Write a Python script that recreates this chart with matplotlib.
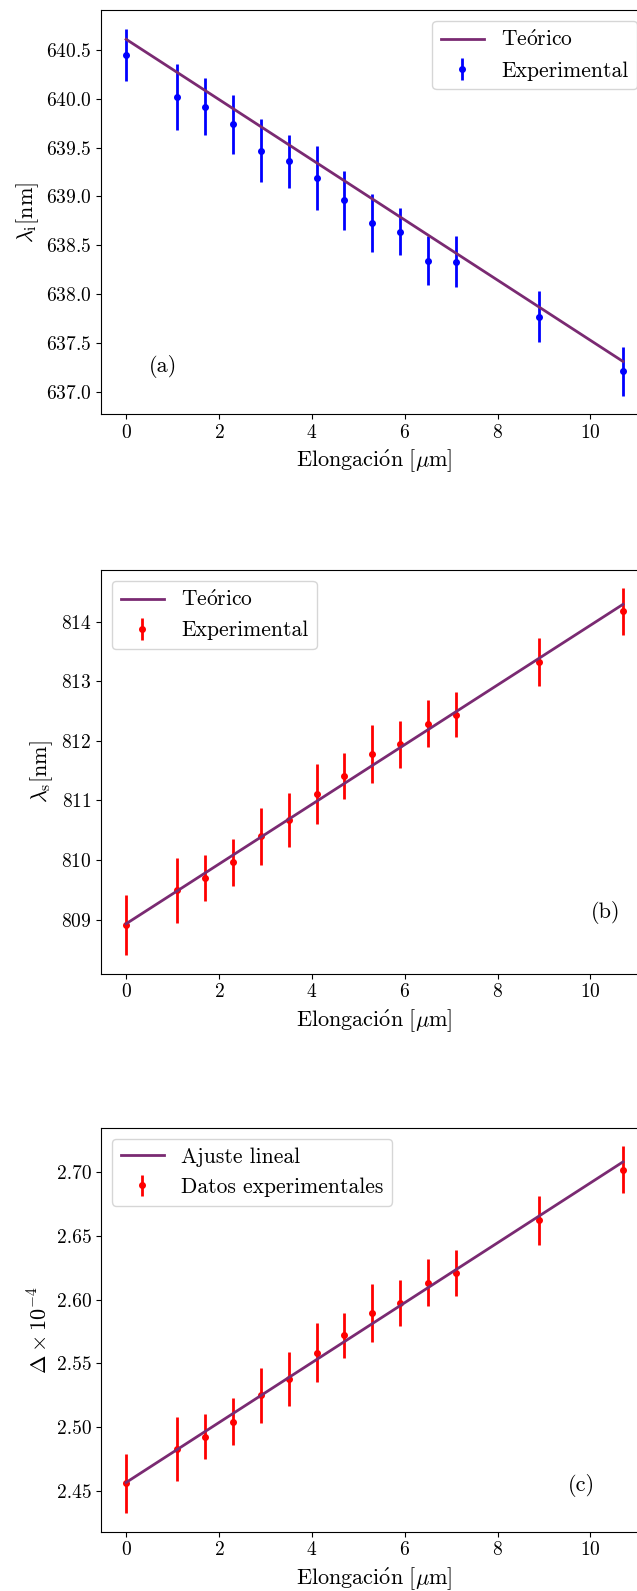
import matplotlib
matplotlib.use("Agg")
import matplotlib.pyplot as plt
import matplotlib.ticker as mticker

plt.rcParams["font.family"] = ["cmr10", "DejaVu Serif"]
plt.rcParams["mathtext.fontset"] = "cm"
plt.rcParams["axes.formatter.use_mathtext"] = True

# elongación aplicada (µm)
elong = [0, 1.1, 1.7, 2.3, 2.9, 3.5, 4.1, 4.7, 5.3, 5.9, 6.5, 7.1, 8.9, 10.7]

# (a) longitud de onda idler
lam_i = [640.45, 640.02, 639.92, 639.74, 639.47, 639.36, 639.19, 638.96,
         638.73, 638.64, 638.34, 638.33, 637.77, 637.21]
err_i = [0.27, 0.34, 0.29, 0.30, 0.32, 0.27, 0.33, 0.30, 0.30, 0.24,
         0.25, 0.26, 0.26, 0.25]
teo_x = [0, 10.7]
teo_i = [640.61, 637.31]

# (b) longitud de onda signal
lam_s = [808.91, 809.49, 809.70, 809.96, 810.40, 810.67, 811.11, 811.41,
         811.78, 811.94, 812.29, 812.44, 813.32, 814.17]
err_s = [0.51, 0.54, 0.39, 0.40, 0.48, 0.46, 0.50, 0.39, 0.49, 0.39,
         0.39, 0.38, 0.40, 0.39]
teo_s = [808.93, 814.29]

# (c) birrefringencia x 1e-4
delta = [2.4557, 2.4827, 2.4924, 2.5043, 2.5249, 2.5376, 2.5584, 2.5719,
         2.5893, 2.5971, 2.6132, 2.6210, 2.6621, 2.7021]
err_d = [0.0234, 0.0250, 0.0176, 0.0185, 0.0215, 0.0210, 0.0234, 0.0178,
         0.0226, 0.0180, 0.0185, 0.0180, 0.0190, 0.0183]
ajuste_d = [2.4565, 2.7081]

LINE_COLOR = "#7a2a72"
FS = 16

# acentos y µ via mathtext (cmr10 no los tiene)
XLABEL = r"$\mathrm{Elongaci\acute{o}n\ [}\mu\mathrm{m]}$"
TEORICO = r"$\mathrm{Te\acute{o}rico}$"

fig = plt.figure(figsize=(6.37, 15.91), dpi=100)
left, width, height = 0.159, 0.858, 0.2538
axes = [fig.add_axes([left, b, width, height]) for b in (0.7398, 0.388, 0.0373)]

panels = [
    (lam_i, err_i, teo_i, "blue", TEORICO, "Experimental",
     r"$\lambda_{\mathrm{i}}[\mathrm{nm}]$", "upper right", (0.8, 637.26), "(a)"),
    (lam_s, err_s, teo_s, "red", TEORICO, "Experimental",
     r"$\lambda_{\mathrm{s}}[\mathrm{nm}]$", "upper left", (10.32, 809.12), "(b)"),
    (delta, err_d, ajuste_d, "red", "Ajuste lineal", "Datos experimentales",
     r"$\Delta\times10^{-4}$", "upper left", (9.8, 2.454), "(c)"),
]

for ax, (y, e, teo, col, lab_line, lab_pts, ylab, loc, tpos, tag) in zip(axes, panels):
    ax.errorbar(elong, y, yerr=e, fmt="o", color=col, ms=4, elinewidth=2,
                label=lab_pts)
    ax.plot(teo_x, teo, color=LINE_COLOR, lw=2, label=lab_line, zorder=3)
    ax.set_xlabel(XLABEL, fontsize=FS)
    ax.set_ylabel(ylab, fontsize=FS)
    ax.tick_params(labelsize=14)
    ax.set_xticks([0, 2, 4, 6, 8, 10])
    ax.text(tpos[0], tpos[1], tag, fontsize=FS, ha="center", va="center")
    ax.legend(loc=loc, fontsize=15.5)

axes[2].set_yticks([2.45, 2.50, 2.55, 2.60, 2.65, 2.70])
axes[2].yaxis.set_major_formatter(mticker.FormatStrFormatter("%.2f"))

fig.savefig("out.png", dpi=100)
